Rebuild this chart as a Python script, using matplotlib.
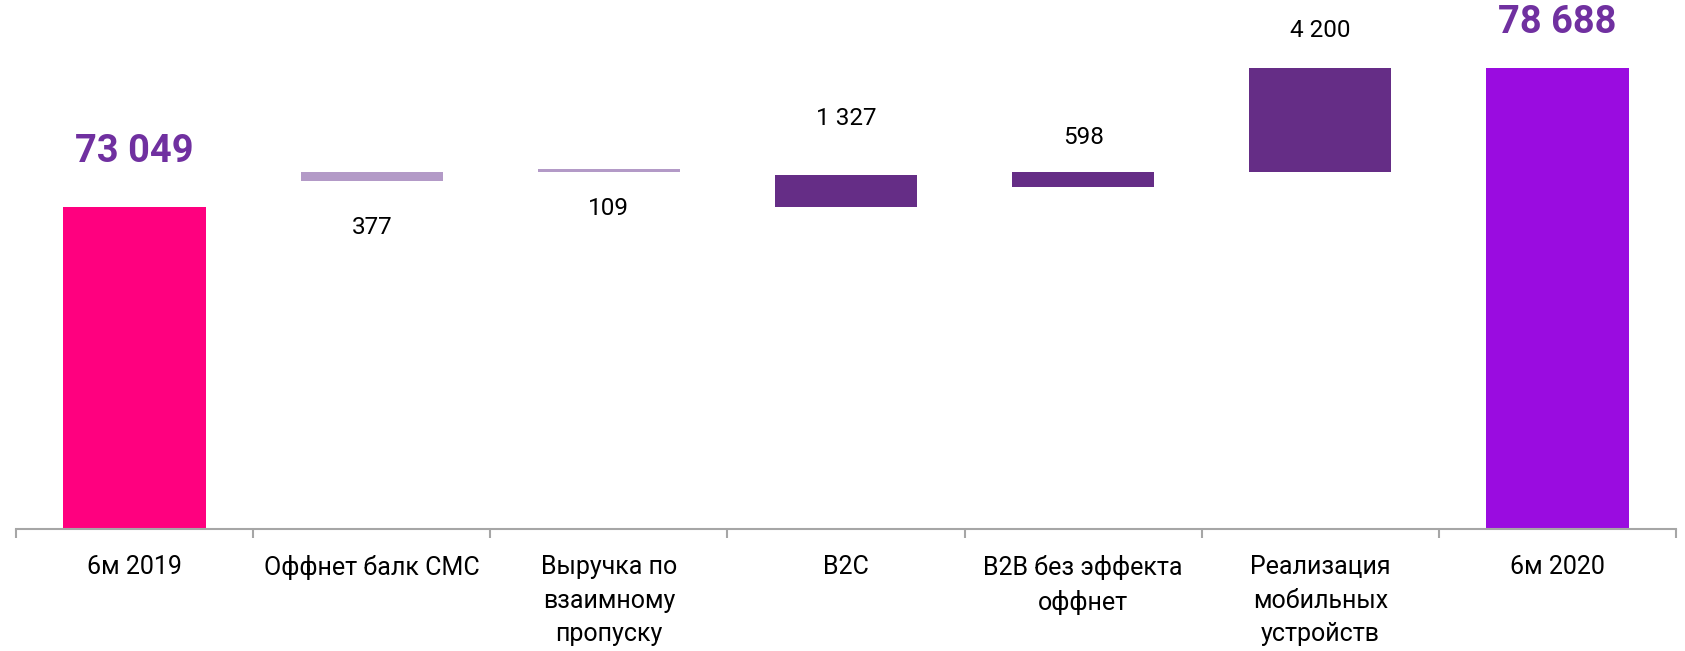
import matplotlib
matplotlib.use("Agg")
import matplotlib.pyplot as plt
from matplotlib.ticker import FixedLocator

# ---- data ----
categories = ["6м 2019", "Оффнет балк СМС", "Выручка по\nвзаимному\nпропуску", "B2C",
              "B2B без эффекта\nоффнет", "Реализация\nмобильных\nустройств", "6м 2020"]
values = [73049, -377, -109, 1327, 598, 4200, 78688]
# hidden base of each floating bar, as drawn in the original chart
bases = [0, 74111, 74488, 73049, 73890, 74488, 0]
is_total = [True, False, False, False, False, False, True]

# ---- style ----
colors = ["#FF007F", "#B39AC7", "#B39AC7", "#652D86", "#652D86", "#652D86", "#9A0CE0"]
# label offsets in pixels: (anchor 'top'/'bottom', dy)
label_pos = [("top", 56), ("bottom", -46), ("bottom", -37), ("top", 56),
             ("top", 34), ("top", 38), ("top", 46)]

FONT = "Roboto"
W, H = 1685, 651
fig = plt.figure(figsize=(W / 100, H / 100), dpi=100)
ax = fig.add_axes([16 / W, 1 - 529 / H, 1660 / W, (529 - 36) / H])

x = list(range(len(categories)))
heights = [abs(v) for v in values]
ax.bar(x, heights, bottom=bases, width=0.6, color=colors, linewidth=0, zorder=2)

ax.set_xlim(-0.5, len(categories) - 0.5)
ax.set_ylim(60000, 80000)

def fmt(v):
    return f"{abs(v):,}".replace(",", " ")

for i, v in enumerate(values):
    top = bases[i] + heights[i]
    bot = bases[i]
    anchor, dy = label_pos[i]
    yref = top if anchor == "top" else bot
    if is_total[i]:
        ax.annotate(fmt(v), (i, yref), xytext=(0, dy), textcoords="offset pixels",
                    ha="center", va="center", fontsize=27.4, fontweight="bold",
                    color="#7030A0", family=FONT)
    else:
        ax.annotate(fmt(v), (i, yref), xytext=(0, dy), textcoords="offset pixels",
                    ha="center", va="center", fontsize=17.5, color="black", family=FONT)

# axes styling
for s in ["left", "right", "top"]:
    ax.spines[s].set_visible(False)
ax.spines["bottom"].set_color("#A6A6A6")
ax.spines["bottom"].set_linewidth(1.5)
ax.yaxis.set_visible(False)

ax.set_xticks(x)
ax.set_xticklabels(categories, family=FONT, fontsize=18, linespacing=1.5, va="top")
ax.tick_params(axis="x", which="major", length=0, pad=19)
ax.xaxis.set_minor_locator(FixedLocator([i - 0.5 for i in range(len(categories) + 1)]))
ax.tick_params(axis="x", which="minor", length=6.5, width=1.5, color="#A6A6A6", direction="out")

fig.savefig("out.png", dpi=100)
